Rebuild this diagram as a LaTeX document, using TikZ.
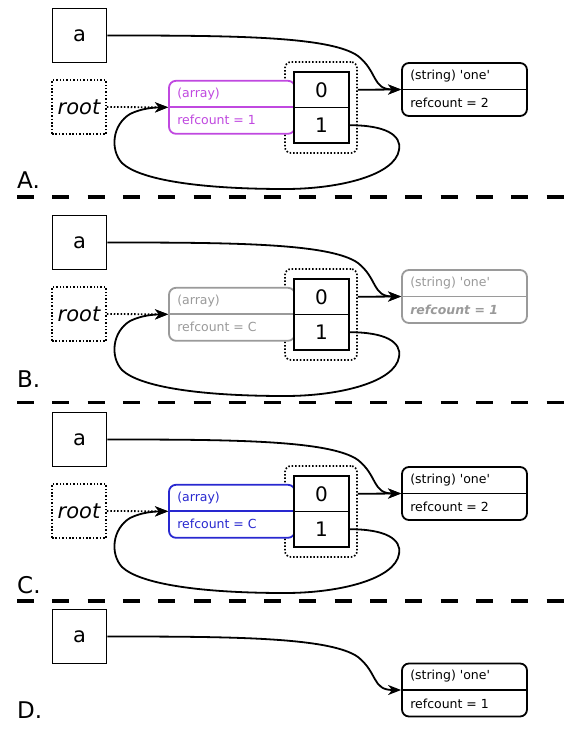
\documentclass[tikz,border=0pt]{standalone}
\usepackage{fontspec}
\setmainfont{DejaVu Sans}
\usetikzlibrary{arrows.meta,positioning}
\definecolor{objpink}{HTML}{C048E0}
\definecolor{objblue}{HTML}{2828D0}
\definecolor{objgray}{HTML}{9A9A9A}

\tikzset{
  dotline/.style={dash pattern=on 1.5pt off 1.9pt},
  varbox/.style={draw,line width=1.9pt,minimum width=54pt,minimum height=54pt,
    inner sep=0pt,font=\fontsize{21}{25}\selectfont},
  rootbox/.style={varbox,dotline},
  grpbox/.style={draw,line width=1.7pt,dotline,rounded corners=6pt,
    minimum width=72pt,minimum height=91pt},
  objbox/.style={draw,line width=1.8pt,rounded corners=7pt,fill=white,
    inner sep=0pt,minimum height=53pt},
  cell/.style={draw,line width=1.9pt,fill=white,minimum width=55pt,
    minimum height=35.5pt,inner sep=0pt,outer sep=0pt,font=\fontsize{20}{24}\selectfont},
  lbl/.style={anchor=west,inner sep=0pt,font=\fontsize{12.5}{15}\selectfont},
  ref/.style={-{Stealth[length=13pt,width=10pt,inset=4pt]},line width=1.8pt},
  sep/.style={line width=3.5pt,dash pattern=on 17pt off 18.3pt},
  tag/.style={anchor=base west,inner sep=0pt,font=\fontsize{23}{27}\selectfont}
}

\begin{document}
\begin{tikzpicture}[x=1pt,y=1pt]
  \useasboundingbox (0,0) rectangle (576,-739);

  % --- panels A, B, C ---
  \foreach \p/\dy/\acol/\scol/\ra/\rs in {
      A/0/objpink/black/1/{refcount = 2},
      B/207/objgray/objgray/C/{\bfseries\itshape refcount = 1},
      C/404/objblue/black/C/{refcount = 2}} {
    \begin{scope}[yshift=-\dy pt]
      \node[varbox] (a\p) at (79.5,-35.5) {a};
      \node[rootbox] (root\p) at (79,-107) {\itshape root};
      \node[grpbox] (grp\p) at (321,-107.5) {};
      % the array
      \node[objbox,draw=\acol,minimum width=126pt] (arr\p) at (232,-107.3) {};
      \draw[\acol,line width=1.8pt] (arr\p.west) -- (arr\p.east);
      \node[lbl,text=\acol] (arrT\p) at ([shift={(9pt,13pt)}]arr\p.west) {(array)};
      \node[lbl,text=\acol] (arrR\p) at ([shift={(9pt,-13pt)}]arr\p.west) {refcount = \ra};
      \node[cell,anchor=south] (c0\p) at (321.5,-107.5) {0};
      \node[cell,below=0pt of c0\p] (c1\p) {1};
      % the string
      \node[objbox,draw=\scol,minimum width=125pt] (str\p) at (464.5,-89.5) {};
      \draw[\scol,line width=1.8pt] (str\p.west) -- (str\p.east);
      \node[lbl,text=\scol] (strT\p) at ([shift={(9pt,13.5pt)}]str\p.west)
        {(string) \textquotesingle one\textquotesingle};
      \node[lbl,text=\scol] (strR\p) at ([shift={(9pt,-13.5pt)}]str\p.west) {\rs};
      % pointers
      \draw[ref] (grp\p.east |- c0\p) -- (str\p.west);
      \draw[ref] (a\p.east) .. controls (230,-35.5) and (330,-36) .. (358,-56)
        .. controls (378,-72) and (372,-89.5) .. (str\p.west);
      \draw[ref,dotline] (root\p.east) -- (arr\p.west);
      \draw[ref] (c1\p.east) .. controls (385,-125) and (402,-135) .. (399,-150)
        .. controls (395,-175) and (340,-189) .. (285,-189)
        .. controls (200,-189) and (140,-180) .. (122,-163)
        .. controls (110,-150) and (112,-125) .. (130,-114)
        .. controls (142,-108) and (155,-107.5) .. (arr\p.west);
    \end{scope}
  }

  % --- panel D ---
  \node[varbox] (aD) at (79.5,-636.5) {a};
  \node[objbox,minimum width=125pt] (strD) at (464.5,-690) {};
  \draw[line width=1.8pt] (strD.west) -- (strD.east);
  \node[lbl] (strTD) at ([shift={(9pt,13.5pt)}]strD.west)
    {(string) \textquotesingle one\textquotesingle};
  \node[lbl] (strRD) at ([shift={(9pt,-13.5pt)}]strD.west) {refcount = 1};
  \draw[ref] (aD.east) .. controls (230,-636.5) and (330,-637) .. (358,-657)
    .. controls (378,-673) and (372,-690) .. (strD.west);

  % labels and separators
  \node[tag] (tagA) at (17,-188) {A.};
  \node[tag] (tagB) at (17,-387) {B.};
  \node[tag] (tagC) at (17,-593) {C.};
  \node[tag] (tagD) at (17,-718) {D.};
  \foreach \yy in {197,402.5,601}
    \draw[sep] (17,-\yy) -- (576,-\yy);

\end{tikzpicture}
\end{document}
